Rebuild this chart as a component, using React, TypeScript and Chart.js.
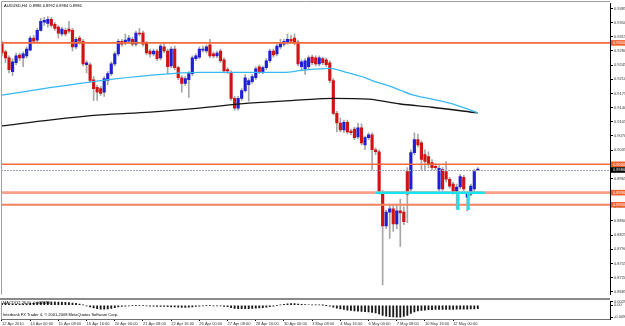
import React, { useEffect, useRef } from 'react';
import { Chart, registerables } from 'chart.js';
Chart.register(...registerables);

// ---- data (AUDUSD, H4) ----
const OPEN = [0.9297,0.9278,0.9263,0.9229,0.9251,0.9270,0.9263,0.9268,0.9282,0.9312,0.9307,0.9331,0.9351,0.9348,0.9358,0.9346,0.9339,0.9322,0.9331,0.9334,
0.9331,0.9290,0.9312,0.9304,0.9246,0.9246,0.9209,0.9190,0.9187,0.9178,0.9207,0.9224,0.9248,0.9273,0.9304,0.9300,0.9304,0.9309,0.9297,0.9324,
0.9324,0.9300,0.9280,0.9273,0.9280,0.9263,0.9290,0.9280,0.9243,0.9285,0.9239,0.9214,0.9200,0.9209,0.9224,0.9261,0.9265,0.9282,0.9280,0.9295,
0.9273,0.9268,0.9280,0.9258,0.9234,0.9226,0.9163,0.9139,0.9163,0.9182,0.9197,0.9204,0.9214,0.9241,0.9229,0.9239,0.9256,0.9280,0.9273,0.9290,
0.9297,0.9302,0.9309,0.9312,0.9302,0.9241,0.9236,0.9241,0.9265,0.9263,0.9248,0.9261,0.9258,0.9251,0.9207,0.9126,0.9102,0.9085,0.9104,0.9082,
0.9087,0.9068,0.9090,0.9048,0.9066,0.9073,0.9036,0.9031,0.8931,0.8848,0.8882,0.8890,0.8853,0.8885,0.8882,0.8982,0.8939,0.9029,0.9061,0.9053,
0.9024,0.9019,0.9004,0.8995,0.8939,0.8987,0.8982,0.8963,0.8951,0.8931,0.8944,0.8968,0.8919,0.8926,0.8939,0.8986];
const HIGH = [0.9304,0.9282,0.9268,0.9261,0.9275,0.9275,0.9278,0.9290,0.9317,0.9319,0.9336,0.9361,0.9363,0.9365,0.9363,0.9351,0.9343,0.9339,0.9336,0.9353,
0.9336,0.9314,0.9317,0.9309,0.9256,0.9251,0.9217,0.9195,0.9192,0.9217,0.9229,0.9253,0.9278,0.9309,0.9309,0.9322,0.9319,0.9314,0.9329,0.9336,
0.9329,0.9304,0.9285,0.9285,0.9285,0.9297,0.9300,0.9285,0.9290,0.9292,0.9243,0.9219,0.9217,0.9229,0.9268,0.9273,0.9290,0.9292,0.9295,0.9309,
0.9278,0.9280,0.9285,0.9263,0.9239,0.9231,0.9168,0.9168,0.9187,0.9222,0.9212,0.9222,0.9241,0.9246,0.9243,0.9261,0.9285,0.9285,0.9297,0.9309,
0.9309,0.9322,0.9319,0.9322,0.9307,0.9258,0.9261,0.9268,0.9270,0.9268,0.9268,0.9265,0.9263,0.9256,0.9212,0.9131,0.9114,0.9109,0.9109,0.9087,
0.9092,0.9102,0.9100,0.9070,0.9078,0.9078,0.9041,0.9036,0.8936,0.8887,0.8902,0.8902,0.8902,0.8914,0.8895,0.8992,0.9036,0.9078,0.9075,0.9058,
0.9036,0.9031,0.9012,0.9002,0.8997,0.8992,0.9007,0.8968,0.8956,0.8951,0.8975,0.8973,0.8931,0.8951,0.8987,0.8992];
const LOW = [0.9268,0.9251,0.9226,0.9219,0.9246,0.9256,0.9241,0.9263,0.9280,0.9300,0.9302,0.9329,0.9343,0.9339,0.9339,0.9331,0.9312,0.9317,0.9317,0.9324,
0.9280,0.9285,0.9297,0.9243,0.9226,0.9202,0.9158,0.9158,0.9170,0.9168,0.9197,0.9219,0.9243,0.9268,0.9292,0.9295,0.9300,0.9292,0.9292,0.9317,
0.9292,0.9270,0.9265,0.9268,0.9256,0.9258,0.9275,0.9224,0.9239,0.9234,0.9209,0.9178,0.9195,0.9165,0.9219,0.9256,0.9261,0.9278,0.9275,0.9263,
0.9263,0.9263,0.9251,0.9226,0.9224,0.9158,0.9134,0.9134,0.9158,0.9178,0.9156,0.9200,0.9209,0.9224,0.9224,0.9234,0.9251,0.9265,0.9268,0.9285,
0.9292,0.9297,0.9300,0.9295,0.9243,0.9231,0.9222,0.9234,0.9246,0.9243,0.9243,0.9246,0.9241,0.9202,0.9122,0.9080,0.9080,0.9078,0.9075,0.9073,
0.9061,0.9063,0.9048,0.9036,0.9061,0.8987,0.9024,0.8926,0.8702,0.8841,0.8817,0.8834,0.8841,0.8797,0.8851,0.8856,0.8934,0.9024,0.9043,0.8987,
0.8987,0.8992,0.8987,0.8987,0.8934,0.8934,0.8956,0.8941,0.8926,0.8890,0.8939,0.8934,0.8885,0.8922,0.8931,0.8984];
const CLOSE = [0.9275,0.9263,0.9234,0.9253,0.9268,0.9263,0.9273,0.9285,0.9312,0.9304,0.9331,0.9353,0.9356,0.9358,0.9343,0.9336,0.9324,0.9334,0.9322,0.9329,
0.9290,0.9309,0.9304,0.9248,0.9251,0.9207,0.9187,0.9178,0.9175,0.9212,0.9224,0.9248,0.9273,0.9304,0.9297,0.9307,0.9312,0.9297,0.9324,0.9322,
0.9297,0.9275,0.9273,0.9280,0.9261,0.9292,0.9280,0.9241,0.9285,0.9239,0.9214,0.9200,0.9212,0.9224,0.9263,0.9268,0.9285,0.9285,0.9290,0.9268,
0.9268,0.9275,0.9256,0.9231,0.9231,0.9163,0.9139,0.9163,0.9182,0.9214,0.9207,0.9217,0.9236,0.9229,0.9239,0.9256,0.9280,0.9270,0.9292,0.9297,
0.9304,0.9309,0.9304,0.9300,0.9248,0.9253,0.9256,0.9263,0.9251,0.9248,0.9263,0.9251,0.9246,0.9207,0.9126,0.9102,0.9085,0.9104,0.9080,0.9078,
0.9066,0.9090,0.9053,0.9066,0.9073,0.9036,0.9031,0.8931,0.8848,0.8882,0.8890,0.8853,0.8885,0.8880,0.8858,0.8926,0.9029,0.9061,0.9048,0.9012,
0.9007,0.9000,0.8992,0.8992,0.8990,0.8939,0.8963,0.8946,0.8931,0.8944,0.8970,0.8939,0.8926,0.8946,0.8982,0.8986];

const MACD = [0.0015,0.0013,0.0010,0.0008,0.0008,0.0008,0.0009,0.0011,0.0015,0.0018,0.0021,0.0025,0.0027,0.0029,0.0029,0.0028,0.0026,0.0025,0.0023,0.0022,
0.0017,0.0015,0.0010,0.0002,-0.0004,-0.0012,-0.0020,-0.0026,-0.0031,-0.0030,-0.0028,-0.0024,-0.0019,-0.0013,-0.0009,-0.0006,-0.0004,-0.0003,-0.0002,-0.0002,
-0.0003,-0.0005,-0.0006,-0.0007,-0.0008,-0.0008,-0.0008,-0.0010,-0.0012,-0.0013,-0.0015,-0.0016,-0.0016,-0.0015,-0.0012,-0.0009,-0.0006,-0.0004,-0.0003,-0.0003,
-0.0004,-0.0004,-0.0005,-0.0008,-0.0011,-0.0018,-0.0024,-0.0026,-0.0027,-0.0026,-0.0026,-0.0025,-0.0023,-0.0021,-0.0018,-0.0014,-0.0010,-0.0006,-0.0002,0.0003,
0.0007,0.0011,0.0013,0.0014,0.0010,0.0007,0.0005,0.0004,0.0003,0.0002,0.0002,0.0001,-0.0001,-0.0006,-0.0014,-0.0022,-0.0028,-0.0033,-0.0037,-0.0040,
-0.0043,-0.0045,-0.0048,-0.0050,-0.0052,-0.0056,-0.0060,-0.0068,-0.0078,-0.0084,-0.0088,-0.0090,-0.0092,-0.0092,-0.0086,-0.0078,-0.0064,-0.0052,-0.0044,-0.0040,
-0.0037,-0.0035,-0.0034,-0.0033,-0.0033,-0.0032,-0.0032,-0.0032,-0.0032,-0.0031,-0.0030,-0.0030,-0.0030,-0.0029,-0.0028,-0.0027];

const MA_FAST_IDX = [0,14,28,42,56,70,80,85,93,97,102,105,110,113,116,122,127,132,135];
const MA_FAST = [0.9171,0.9190,0.9207,0.9220,0.9227,0.9227,0.9227,0.9232,0.9237,0.9229,0.9217,0.9207,0.9193,0.9183,0.9173,0.9161,0.9151,0.9137,0.9127];
const MA_SLOW_IDX = [0,14,28,42,56,70,85,94,104,113,122,135];
const MA_SLOW = [0.9095,0.9110,0.9122,0.9129,0.9139,0.9151,0.9159,0.9163,0.9161,0.9149,0.9141,0.9127];

const PRICE_TICKS = [0.9385,0.9350,0.9315,0.9280,0.9245,0.9210,0.9175,0.9140,0.9105,0.9070,0.9035,0.9000,0.8965,0.8930,0.8895,0.8860,0.8825,0.8790,0.8755,0.8720,0.8685];
const TIME_IDX = [0,8,16,24,32,40,48,56,64,72,80,88,96,104,112,120,128];
const TIME_LABELS = ['12 Apr 2010','14 Apr 00:00','15 Apr 08:00','16 Apr 16:00','20 Apr 00:00','21 Apr 08:00','22 Apr 16:00','26 Apr 00:00','27 Apr 08:00','28 Apr 16:00','30 Apr 00:00','3 May 08:00','4 May 16:00','6 May 00:00','7 May 08:00','10 May 16:00','12 May 00:00'];
const MACD_TICKS = [0.00299, 0, -0.00923];
const MACD_TICK_LABELS = ['0.00299', '0.00', '-0.00923'];

const LEVELS = [0.9300, 0.9000, 0.8930, 0.8900];
const LEVEL_LABELS = ['0.9300', '0.9000', '0.8930', '0.8900'];
const BID = 0.8986;
const CYAN_LEVEL = 0.8930;
const CYAN_FROM = 106;
const CYAN_TO = 137;
const CYAN_VERT_AT = [129.4, 132.3];
const CYAN_VERT_LOW = 0.8887;
const HEADER = 'AUDUSD,H4  0.8986 0.8992 0.8984 0.8986';
const MACD_TITLE = 'MACD(12,26,9) -0.002680';
const COPYRIGHT = 'Interbank FX Trader 4, \u00A9 2001-2008 MetaQuotes Software Corp.';

// ---- view settings ----
const X_MIN = -0.28;
const X_MAX = 172.5;
const P_MAX = 0.93976;
const P_MIN = 0.86781;
const M_MAX = 0.00303;
const M_MIN = -0.01067;
const FONT = '"Liberation Sans", Arial, sans-serif';
const BULL = '#1F1FD6';
const BEAR = '#D01414';
const WICK = '#A6A6A6';
const LEVEL_COLORS = ['#F26A3C', '#F26A3C', '#F7A084', '#F5825F'];
const LEVEL_WIDTHS = [1.6, 1.6, 2.6, 2];

const mainPlugin = {
  id: 'mainDecor',
  afterDatasetsDraw(chart: any) {
    const { ctx, chartArea: a, scales } = chart;
    const xs = scales.x, ys = scales.y;
    ctx.save();
    ctx.beginPath();
    ctx.rect(a.left, a.top, a.right - a.left, a.bottom - a.top);
    ctx.clip();
    LEVELS.forEach((v, k) => {
      const py = ys.getPixelForValue(v);
      ctx.strokeStyle = LEVEL_COLORS[k];
      ctx.lineWidth = LEVEL_WIDTHS[k];
      ctx.beginPath();
      ctx.moveTo(a.left, py);
      ctx.lineTo(a.right, py);
      ctx.stroke();
    });
    const by = Math.round(ys.getPixelForValue(BID)) + 0.5;
    ctx.strokeStyle = '#9CA4B8';
    ctx.lineWidth = 1;
    ctx.setLineDash([2, 1]);
    ctx.beginPath();
    ctx.moveTo(a.left, by);
    ctx.lineTo(a.right, by);
    ctx.stroke();
    ctx.setLineDash([]);
    // cyan drawn objects
    const cy = ys.getPixelForValue(CYAN_LEVEL);
    ctx.strokeStyle = '#19E3F0';
    ctx.lineWidth = 2.5;
    ctx.beginPath();
    ctx.moveTo(xs.getPixelForValue(CYAN_FROM), cy);
    ctx.lineTo(xs.getPixelForValue(CYAN_TO), cy);
    ctx.stroke();
    ctx.lineWidth = 3;
    CYAN_VERT_AT.forEach((b) => {
      const px = xs.getPixelForValue(b);
      ctx.beginPath();
      ctx.moveTo(px, cy);
      ctx.lineTo(px, ys.getPixelForValue(CYAN_VERT_LOW));
      ctx.stroke();
    });
    ctx.restore();
  },
  afterDraw(chart: any) {
    const { ctx, chartArea: a, scales } = chart;
    const ys = scales.y;
    ctx.save();
    // frame
    ctx.strokeStyle = '#A0A0A0';
    ctx.lineWidth = 1;
    ctx.beginPath();
    ctx.moveTo(a.left + 0.5, a.bottom);
    ctx.lineTo(a.left + 0.5, 1.5);
    ctx.lineTo(a.right, 1.5);
    ctx.stroke();
    // axis price boxes
    ctx.font = `4px ${FONT}`;
    ctx.textBaseline = 'middle';
    ctx.textAlign = 'left';
    const box = (v: number, label: string, bg: string) => {
      const py = ys.getPixelForValue(v);
      ctx.fillStyle = bg;
      ctx.fillRect(a.right + 1, py - 2.8, 15, 5.6);
      ctx.fillStyle = '#FFFFFF';
      ctx.fillText(label, a.right + 3, py + 0.2);
    };
    LEVELS.forEach((v, k) => box(v, LEVEL_LABELS[k], '#F0602E'));
    box(BID, BID.toFixed(4), '#000000');
    // header
    ctx.fillStyle = '#000000';
    ctx.fillText(HEADER, 4, 5.5);
    ctx.restore();
  },
};

const subPlugin = {
  id: 'subDecor',
  afterDraw(chart: any) {
    const { ctx, chartArea: a } = chart;
    ctx.save();
    ctx.fillStyle = '#8A8A8A';
    ctx.fillRect(0, 0, a.right, 2);
    ctx.strokeStyle = '#A0A0A0';
    ctx.lineWidth = 1;
    ctx.beginPath();
    ctx.moveTo(a.left + 0.5, a.top);
    ctx.lineTo(a.left + 0.5, a.bottom);
    ctx.stroke();
    ctx.font = `4px ${FONT}`;
    ctx.textBaseline = 'middle';
    ctx.textAlign = 'left';
    ctx.fillStyle = '#000000';
    ctx.fillText(MACD_TITLE, 3, 4.5);
    ctx.fillText(COPYRIGHT, 3, 16.5);
    ctx.restore();
  },
};

export default function App() {
  const mainRef = useRef<HTMLCanvasElement>(null);
  const subRef = useRef<HTMLCanvasElement>(null);

  useEffect(() => {
    document.body.style.margin = '0';
    const idx = OPEN.map((_, i) => i);
    const isUp = (i: number) => CLOSE[i] >= OPEN[i];
    const common: any = {
      animation: false,
      responsive: false,
      maintainAspectRatio: false,
      devicePixelRatio: 1,
      events: [],
      plugins: { legend: { display: false }, tooltip: { enabled: false } },
    };

    const main = new Chart(mainRef.current as HTMLCanvasElement, {
      type: 'bar',
      data: {
        datasets: [
          {
            type: 'line',
            data: MA_FAST_IDX.map((x, k) => ({ x, y: MA_FAST[k] })),
            borderColor: '#36B9F2',
            borderWidth: 1.3,
            pointRadius: 0,
            cubicInterpolationMode: 'monotone',
            order: 0,
          } as any,
          {
            type: 'line',
            data: MA_SLOW_IDX.map((x, k) => ({ x, y: MA_SLOW[k] })),
            borderColor: '#151515',
            borderWidth: 1.3,
            pointRadius: 0,
            cubicInterpolationMode: 'monotone',
            order: 0,
          } as any,
          {
            type: 'bar',
            data: idx.map((i) => ({ x: i, y: [OPEN[i], CLOSE[i]] })),
            backgroundColor: idx.map((i) => (isUp(i) ? BULL : BEAR)),
            barThickness: 2.5,
            minBarLength: 1,
            grouped: false,
            borderWidth: 0,
            order: 1,
          } as any,
          {
            type: 'bar',
            data: idx.map((i) => ({ x: i, y: [LOW[i], HIGH[i]] })),
            backgroundColor: WICK,
            barThickness: 1,
            grouped: false,
            borderWidth: 0,
            order: 2,
          } as any,
        ],
      },
      options: {
        ...common,
        layout: { padding: { left: 1, top: 2, right: 0, bottom: 1 } },
        scales: {
          x: {
            type: 'linear',
            min: X_MIN,
            max: X_MAX,
            display: false,
            offset: false,
            grid: { offset: false },
          },
          y: {
            type: 'linear',
            position: 'right',
            min: P_MIN,
            max: P_MAX,
            afterFit: (s: any) => { s.width = 15; },
            afterBuildTicks: (s: any) => { s.ticks = PRICE_TICKS.map((v) => ({ value: v })); },
            ticks: {
              callback: (v: any) => Number(v).toFixed(4),
              font: { size: 4, family: FONT },
              color: '#333333',
              padding: 1,
              autoSkip: false,
            },
            grid: { drawOnChartArea: false, drawTicks: true, tickLength: 3, color: '#000000' },
            border: { display: true, color: '#000000', width: 1 },
          },
        },
      } as any,
      plugins: [mainPlugin],
    });

    const sub = new Chart(subRef.current as HTMLCanvasElement, {
      type: 'bar',
      data: {
        datasets: [
          {
            data: idx.map((i) => ({ x: i, y: MACD[i] })),
            backgroundColor: '#1A1A1A',
            barThickness: 1.2,
            grouped: false,
            borderWidth: 0,
          } as any,
        ],
      },
      options: {
        ...common,
        layout: { padding: { left: 1, top: 2, right: 0, bottom: 0 } },
        scales: {
          x: {
            type: 'linear',
            position: 'bottom',
            min: X_MIN,
            max: X_MAX,
            offset: false,
            afterFit: (s: any) => { s.height = 7; },
            afterBuildTicks: (s: any) => { s.ticks = TIME_IDX.map((v) => ({ value: v })); },
            ticks: {
              callback: (v: any) => TIME_LABELS[TIME_IDX.indexOf(Number(v))],
              align: 'start',
              autoSkip: false,
              maxRotation: 0,
              minRotation: 0,
              padding: 0,
              font: { size: 4, family: FONT },
              color: '#333333',
            },
            grid: { drawOnChartArea: false, drawTicks: true, tickLength: 2, color: '#000000', offset: false },
            border: { display: true, color: '#707070', width: 1 },
          },
          y: {
            type: 'linear',
            position: 'right',
            min: M_MIN,
            max: M_MAX,
            afterFit: (s: any) => { s.width = 15; },
            afterBuildTicks: (s: any) => { s.ticks = MACD_TICKS.map((v) => ({ value: v })); },
            ticks: {
              callback: (v: any) => MACD_TICK_LABELS[MACD_TICKS.indexOf(Number(v))],
              font: { size: 4, family: FONT },
              color: '#333333',
              padding: 1,
              autoSkip: false,
            },
            grid: { drawOnChartArea: false, drawTicks: true, tickLength: 3, color: '#000000' },
            border: { display: true, color: '#000000', width: 1 },
          },
        },
      } as any,
      plugins: [subPlugin],
    });

    return () => {
      main.destroy();
      sub.destroy();
    };
  }, []);

  return (
    <div style={{ position: 'relative', width: 625, height: 326, background: '#ffffff', overflow: 'hidden' }}>
      <canvas ref={mainRef} width={625} height={298} style={{ position: 'absolute', left: 0, top: 0, width: 625, height: 298 }} />
      <canvas ref={subRef} width={625} height={28} style={{ position: 'absolute', left: 0, top: 298, width: 625, height: 28 }} />
    </div>
  );
}
